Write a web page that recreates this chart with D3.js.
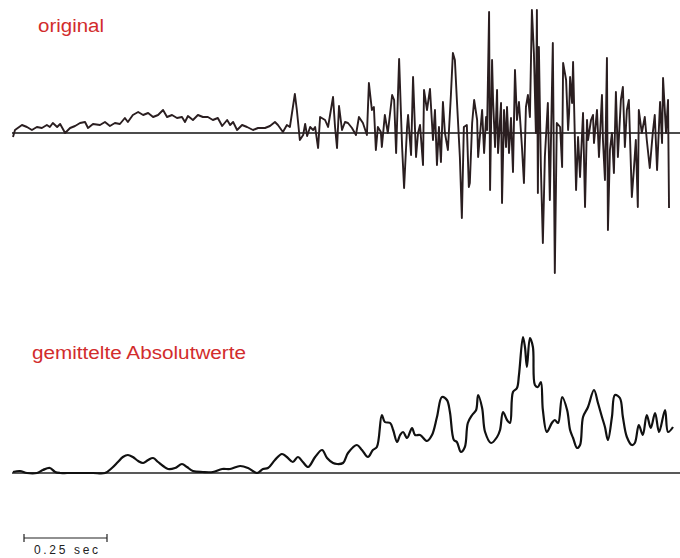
<!DOCTYPE html>
<html>
<head>
<meta charset="utf-8">
<script src="https://cdn.jsdelivr.net/npm/d3@7"></script>
<style>
  body { margin: 0; background: #fff; }
  svg { display: block; }
</style>
</head>
<body>
<script>
// time in ms, amplitude in arbitrary units
const originalSignal = [
  [3,-4],[9,3],[30,8],[45,6],[60,3],[75,6],[90,5],[105,8],[114,6],[123,10],[136,6],[145,9],
  [160,0],[175,5],[190,7],[205,10],[220,11],[229,5],[244,9],[265,8],[280,11],[295,7],[310,10],
  [325,9],[340,15],[349,11],[364,18],[380,21],[395,18],[410,20],[425,16],[440,18],[455,23],
  [467,16],[482,18],[497,15],[512,16],[521,11],[530,17],[545,13],[560,18],[575,16],[590,16],
  [605,13],[620,15],[633,7],[648,13],[657,8],[666,11],[678,3],[693,8],[708,6],[726,3],[741,5],
  [762,5],[777,7],[792,11],[801,8],[816,1],[828,8],[837,6],[852,39],[858,23],[867,-7],[877,-2],
  [883,9],[889,-3],[898,6],[907,3],[913,6],[922,-15],[928,16],[943,13],[952,6],[967,36],[973,6],
  [979,-15],[985,27],[994,3],[1003,11],[1012,10],[1024,5],[1036,-2],[1045,16],[1057,10],[1069,-2],
  [1075,50],[1084,23],[1090,26],[1096,-17],[1102,6],[1111,1],[1114,-14],[1123,18],[1132,0],
  [1145,38],[1151,33],[1157,-20],[1166,74],[1175,-14],[1181,-55],[1190,6],[1193,18],[1202,-22],
  [1208,56],[1217,-24],[1223,0],[1229,8],[1238,-32],[1241,43],[1250,23],[1259,44],[1268,-7],
  [1274,23],[1280,-32],[1286,6],[1292,-29],[1298,31],[1304,0],[1313,-17],[1322,38],[1328,80],
  [1334,73],[1340,33],[1349,-24],[1355,-85],[1361,6],[1370,8],[1376,-54],[1379,-50],[1386,10],
  [1392,33],[1401,13],[1404,-24],[1416,23],[1422,-20],[1428,16],[1431,3],[1437,121],[1440,-57],
  [1446,73],[1449,33],[1455,-14],[1461,43],[1464,-20],[1473,30],[1476,-70],[1482,23],[1488,-14],
  [1491,26],[1497,-20],[1503,15],[1509,-39],[1515,63],[1521,13],[1527,31],[1536,-14],[1542,-50],
  [1548,26],[1554,38],[1560,16],[1566,123],[1572,80],[1578,0],[1581,123],[1584,-60],[1587,86],
  [1593,-34],[1599,-110],[1605,-24],[1614,30],[1620,-67],[1629,90],[1635,-140],[1641,10],
  [1651,6],[1657,-34],[1660,70],[1669,53],[1675,3],[1678,20],[1681,56],[1687,30],[1690,71],
  [1699,-57],[1705,-4],[1711,-44],[1720,20],[1726,-74],[1732,13],[1735,-7],[1744,13],[1750,18],
  [1753,-10],[1762,23],[1768,-24],[1777,38],[1780,-7],[1786,-47],[1792,75],[1795,-97],[1801,-17],
  [1807,0],[1813,-40],[1819,41],[1825,-24],[1834,33],[1840,46],[1846,-14],[1852,23],[1858,33],
  [1867,-64],[1873,-37],[1879,-7],[1885,-74],[1888,23],[1897,0],[1906,16],[1912,-7],[1921,-35],
  [1930,0],[1936,18],[1943,-37],[1952,31],[1958,-10],[1961,55],[1970,0],[1976,33],[1979,-75]
];

const averagedAbs = [
  [3,1],[24,2],[45,0],[75,0],[93,3],[114,5],[130,1],[145,0],[166,0],[205,0],[244,0],[280,0],
  [301,5],[319,11],[334,16],[349,18],[364,16],[380,12],[395,10],[410,13],[425,15],[440,11],
  [455,7],[470,4],[491,5],[512,9],[527,6],[545,2],[575,1],[605,1],[633,4],[657,4],[687,7],
  [711,5],[738,0],[756,4],[771,5],[792,13],[813,19],[828,16],[846,11],[861,16],[876,11],
  [892,6],[913,16],[934,23],[949,15],[967,10],[979,9],[997,10],[1012,20],[1039,28],[1054,23],
  [1072,16],[1087,23],[1099,26],[1114,58],[1123,51],[1139,50],[1148,43],[1160,31],[1169,38],
  [1178,41],[1190,35],[1205,45],[1214,38],[1229,38],[1250,32],[1265,38],[1280,56],[1295,76],
  [1310,73],[1319,61],[1331,33],[1340,31],[1352,21],[1364,26],[1373,50],[1386,58],[1398,63],
  [1404,78],[1416,65],[1425,41],[1443,30],[1461,36],[1470,43],[1479,61],[1491,53],[1500,50],
  [1509,81],[1521,85],[1527,98],[1539,136],[1545,126],[1551,106],[1560,135],[1569,126],
  [1575,88],[1584,86],[1593,91],[1599,63],[1611,41],[1626,50],[1635,53],[1645,50],[1657,76],
  [1672,63],[1681,43],[1690,35],[1702,25],[1711,28],[1720,56],[1735,66],[1753,83],[1765,70],
  [1777,56],[1786,46],[1795,33],[1807,56],[1816,78],[1831,75],[1840,56],[1852,36],[1867,28],
  [1876,30],[1888,48],[1900,38],[1912,58],[1924,45],[1937,60],[1949,41],[1967,63],[1976,41],
  [1991,46]
];

const labels = ["original", "gemittelte Absolutwerte"];
const scaleBarMs = 250;
const scaleBarLabel = "0.25 sec";

const width = 680, height = 558;
const red = "#d22c2c";

const svg = d3.select("body").append("svg")
  .attr("width", width)
  .attr("height", height);

// 0.25 sec is about 83px wide in the reference
const x = d3.scaleLinear().domain([0, 2000]).range([12, 676]);
const yTop = d3.scaleLinear().domain([-140, 123]).range([273, 10]);
const yBot = d3.scaleLinear().domain([0, 136]).range([473, 337]);

// baselines
svg.append("line")
  .attr("x1", 12).attr("x2", 680)
  .attr("y1", yTop(0)).attr("y2", yTop(0))
  .attr("stroke", "#111").attr("stroke-width", 1.4);

svg.append("line")
  .attr("x1", 12).attr("x2", 680)
  .attr("y1", yBot(0)).attr("y2", yBot(0))
  .attr("stroke", "#222").attr("stroke-width", 1.4);

let lineTop = d3.line().x(d => x(d[0])).y(d => yTop(d[1]));
let lineBot = d3.line().x(d => x(d[0])).y(d => yBot(d[1]))
  .curve(d3.curveCatmullRom.alpha(0.5));

svg.append("path")
  .datum(originalSignal)
  .attr("d", lineTop)
  .attr("fill", "none")
  .attr("stroke", "#2a1e20")
  .attr("stroke-width", 1.9)
  .attr("stroke-linejoin", "round");

svg.append("path")
  .datum(averagedAbs)
  .attr("d", lineBot)
  .attr("fill", "none")
  .attr("stroke", "#111")
  .attr("stroke-width", 2.2)
  .attr("stroke-linejoin", "round");

// labels
svg.append("text")
  .attr("x", 38).attr("y", 32)
  .attr("fill", red)
  .style("font-family", "Liberation Sans, Arial, sans-serif")
  .style("font-size", "18px")
  .attr("textLength", 66)
  .attr("lengthAdjust", "spacingAndGlyphs")
  .text(labels[0]);

svg.append("text")
  .attr("x", 32).attr("y", 359)
  .attr("fill", red)
  .style("font-family", "Liberation Sans, Arial, sans-serif")
  .style("font-size", "18px")
  .attr("textLength", 214)
  .attr("lengthAdjust", "spacingAndGlyphs")
  .text(labels[1]);

// scale bar
let sb = svg.append("g").attr("transform", "translate(" + (24 - x(0)) + ",0)");
let x0 = x(0), x1 = x(scaleBarMs);
sb.append("line")
  .attr("x1", x0).attr("x2", x1).attr("y1", 538).attr("y2", 538)
  .attr("stroke", "#222").attr("stroke-width", 1.2);
[x0, x1].forEach(v => {
  sb.append("line")
    .attr("x1", v).attr("x2", v).attr("y1", 534).attr("y2", 542)
    .attr("stroke", "#222").attr("stroke-width", 1.2);
});
sb.append("text")
  .attr("x", x0 + 10).attr("y", 554)
  .attr("fill", "#222")
  .style("font-family", "Liberation Sans, Arial, sans-serif")
  .style("font-size", "12px")
  .attr("textLength", 64)
  .attr("lengthAdjust", "spacing")
  .text(scaleBarLabel);
</script>
</body>
</html>
